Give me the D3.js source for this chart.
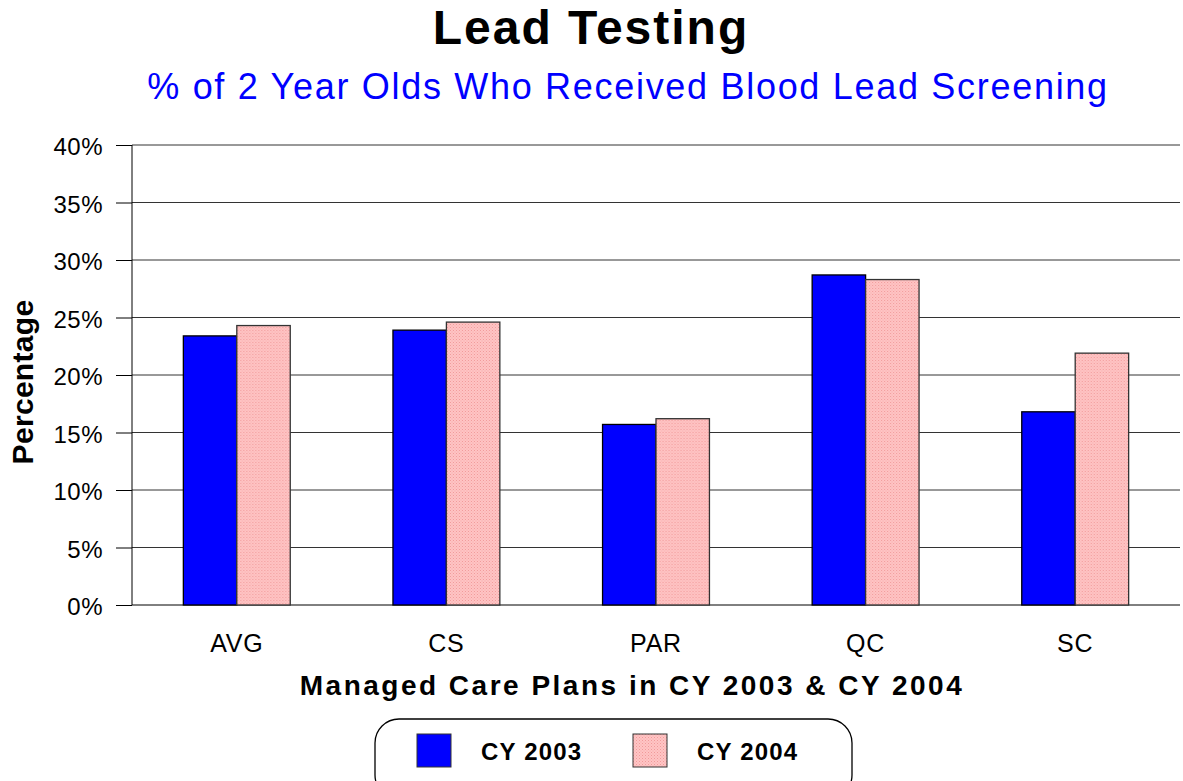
<!DOCTYPE html>
<html>
<head>
<meta charset="utf-8">
<script src="https://cdn.jsdelivr.net/npm/d3@7"></script>
<style>
  body { margin: 0; background: #fff; }
  svg { font-family: "Liberation Sans", Arial, sans-serif; }
</style>
</head>
<body>
<svg id="chart" width="1183" height="781"></svg>
<script>
const plans = ['AVG', 'CS', 'PAR', 'QC', 'SC'];
const years = ['CY 2003', 'CY 2004'];
const cy2003 = [23.4, 23.9, 15.7, 28.7, 16.8];
const cy2004 = [24.3, 24.6, 16.2, 28.3, 21.9];
const yTicks = [0, 5, 10, 15, 20, 25, 30, 35, 40];

const width = 1183;
const height = 781;
const margin = { top: 145, right: 3, bottom: 176, left: 132 };

const svg = d3.select('#chart');

// pink dotted fill
const defs = svg.append('defs');
const pat = defs.append('pattern')
    .attr('id', 'pinkDots')
    .attr('width', 3).attr('height', 3)
    .attr('patternUnits', 'userSpaceOnUse');
pat.append('rect').attr('width', 3).attr('height', 3).attr('fill', '#ffc4c4');
pat.append('rect').attr('x', 0).attr('y', 0).attr('width', 1).attr('height', 1).attr('fill', '#f09a9a');
pat.append('rect').attr('x', 1.5).attr('y', 1.5).attr('width', 1).attr('height', 1).attr('fill', '#f5a8a8');

const colors = { 'CY 2003': '#0000ff', 'CY 2004': 'url(#pinkDots)' };
const rows = plans.map((p, i) => ({ plan: p, 'CY 2003': cy2003[i], 'CY 2004': cy2004[i] }));

const x = d3.scaleBand()
    .domain(plans)
    .range([margin.left, width - margin.right])
    .paddingInner(0.49)
    .paddingOuter(0.245);

const xs = d3.scaleBand()
    .domain(years)
    .range([0, x.bandwidth()]);

const y = d3.scaleLinear()
    .domain([0, 40])
    .range([height - margin.bottom, margin.top]);

// ticks + labels
const yAxis = d3.axisLeft(y)
    .tickValues(yTicks)
    .tickFormat(d => d + '%')
    .tickSize(16)
    .tickPadding(13);

const gy = svg.append('g')
    .attr('transform', `translate(${margin.left},0)`)
    .call(yAxis);
gy.select('.domain').remove();
gy.selectAll('.tick line').attr('stroke', '#000');
gy.selectAll('.tick text')
    .attr('font-size', 24)
    .attr('font-family', '"Liberation Sans", Arial, sans-serif')
    .attr('letter-spacing', 0.5)
    .attr('dy', '0.4em')
    .attr('fill', '#000');

// gridlines
svg.append('g')
    .selectAll('line')
    .data(yTicks)
    .join('line')
    .attr('x1', margin.left)
    .attr('x2', width - margin.right)
    .attr('y1', d => y(d))
    .attr('y2', d => y(d))
    .attr('stroke', d => d === 0 ? '#000' : '#333')
    .attr('stroke-width', 1);

svg.append('line')
    .attr('x1', margin.left).attr('x2', margin.left)
    .attr('y1', y(40)).attr('y2', y(0))
    .attr('stroke', '#000');

// bars
svg.append('g')
    .selectAll('g')
    .data(rows)
    .join('g')
    .attr('transform', d => `translate(${x(d.plan)},0)`)
    .selectAll('rect')
    .data(d => years.map(k => ({ key: k, value: d[k] })))
    .join('rect')
    .attr('x', d => xs(d.key))
    .attr('y', d => y(d.value))
    .attr('width', xs.bandwidth())
    .attr('height', d => y(0) - y(d.value))
    .attr('fill', d => colors[d.key])
    .attr('stroke', d => d.key === 'CY 2003' ? '#000' : '#333')
    .attr('stroke-width', 1.3);

// category labels
svg.append('g')
    .selectAll('text')
    .data(plans)
    .join('text')
    .attr('x', d => x(d) + x.bandwidth() / 2)
    .attr('y', 652)
    .attr('text-anchor', 'middle')
    .attr('font-size', 25)
    .attr('letter-spacing', 0.8)
    .text(d => d);

// titles
svg.append('text')
    .attr('x', 591).attr('y', 44)
    .attr('text-anchor', 'middle')
    .attr('font-size', 48)
    .attr('font-weight', 'bold')
    .attr('letter-spacing', 2)
    .text('Lead Testing');

svg.append('text')
    .attr('x', 628).attr('y', 99)
    .attr('text-anchor', 'middle')
    .attr('font-size', 36)
    .attr('fill', '#0000ff')
    .attr('letter-spacing', 1.7)
    .text('% of 2 Year Olds Who Received Blood Lead Screening');

svg.append('text')
    .attr('transform', 'translate(33,382) rotate(-90)')
    .attr('text-anchor', 'middle')
    .attr('font-size', 30)
    .attr('font-weight', 'bold')
    .attr('letter-spacing', 0.3)
    .text('Percentage');

svg.append('text')
    .attr('x', 632).attr('y', 695)
    .attr('text-anchor', 'middle')
    .attr('font-size', 28)
    .attr('font-weight', 'bold')
    .attr('letter-spacing', 2.5)
    .text('Managed Care Plans in CY 2003 & CY 2004');

// legend
const lg = svg.append('g');
lg.append('rect')
    .attr('x', 375).attr('y', 719)
    .attr('width', 477).attr('height', 80)
    .attr('rx', 24)
    .attr('fill', '#fff')
    .attr('stroke', '#000')
    .attr('stroke-width', 1.3);

const legendX = [417, 633];
const li = lg.selectAll('g.item')
    .data(years)
    .join('g')
    .attr('class', 'item')
    .attr('transform', (d, i) => `translate(${legendX[i]},734)`);
li.append('rect')
    .attr('width', 34).attr('height', 33)
    .attr('fill', d => colors[d])
    .attr('stroke', '#333')
    .attr('stroke-width', 1);
li.append('text')
    .attr('x', 64).attr('y', 26)
    .attr('font-size', 24)
    .attr('font-weight', 'bold')
    .attr('letter-spacing', 1.2)
    .text(d => d);
</script>
</body>
</html>
